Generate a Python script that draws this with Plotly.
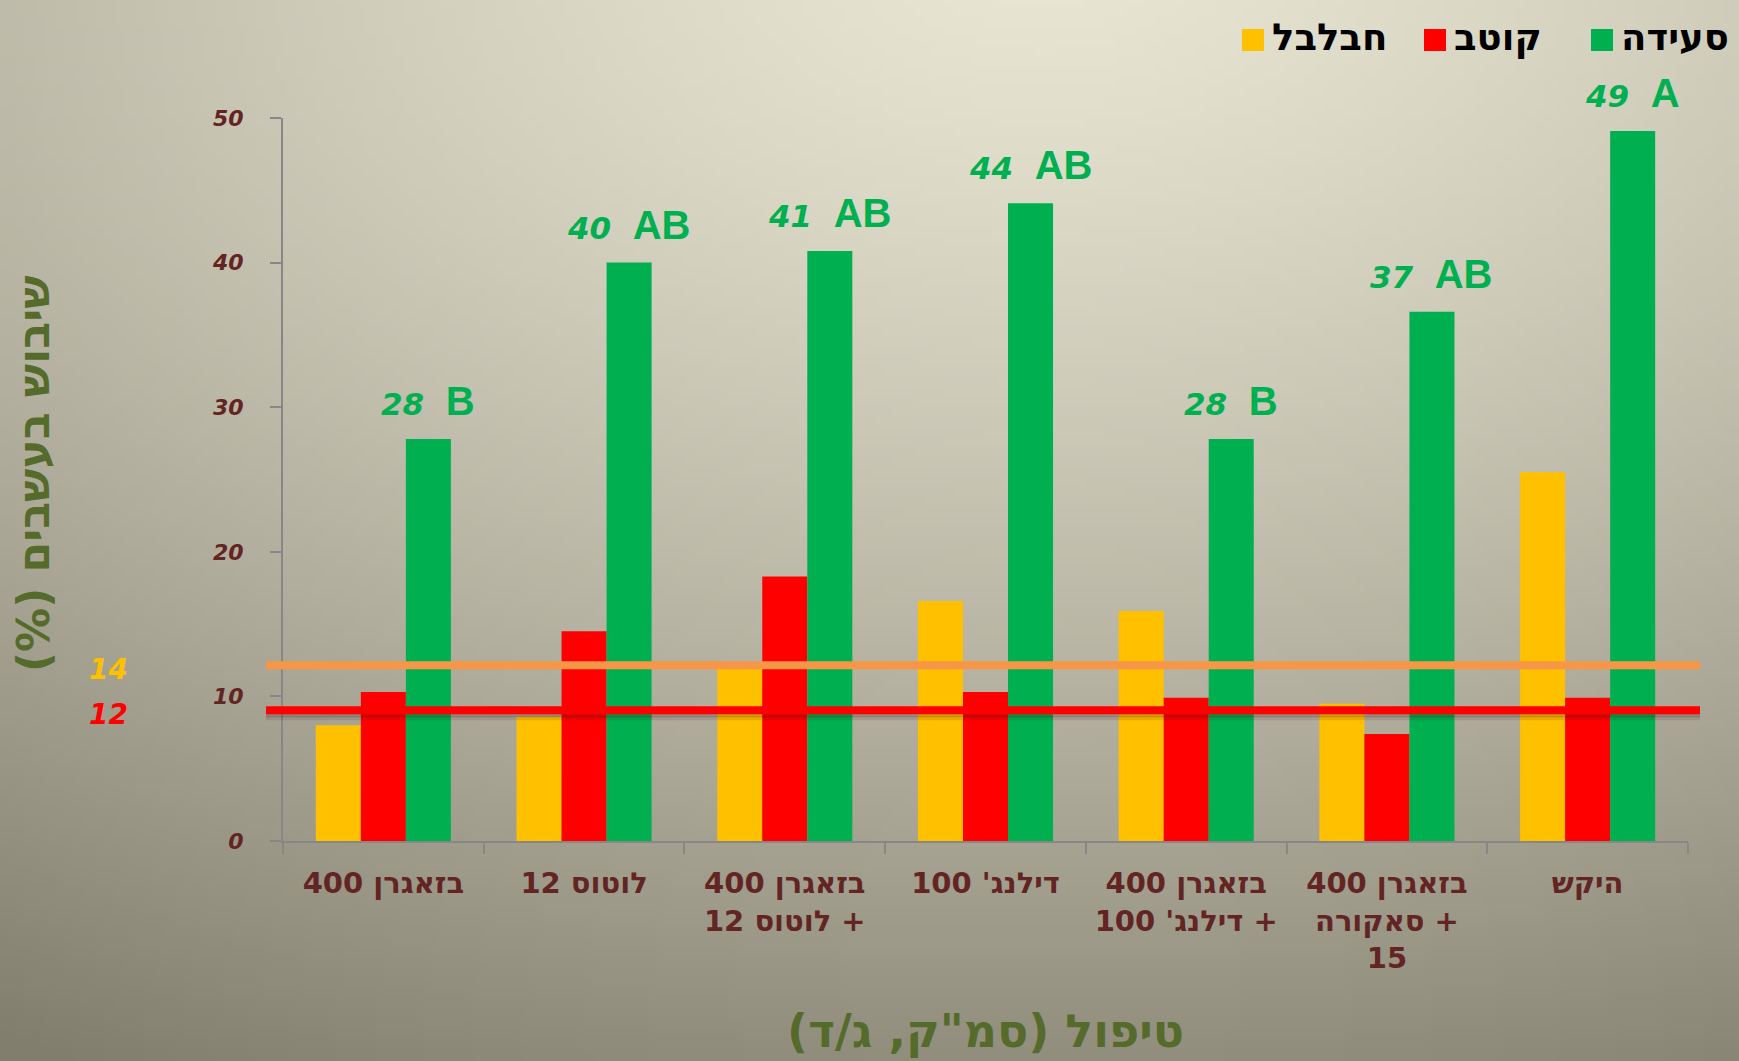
import base64
import struct
import zlib

import numpy as np
import plotly.graph_objects as go

# data
treatments = [
    "בזאגרן 400",
    "לוטוס 12",
    "בזאגרן 400<br>+ לוטוס 12",
    "דילנג' 100",
    "בזאגרן 400<br>+ דילנג' 100",
    "בזאגרן 400<br>+ סאקורה<br>15",
    "היקש",
]
series_names = ["חבלבל", "קוטב", "סעידה"]
bindweed = [8.0, 8.6, 11.9, 16.6, 15.9, 9.5, 25.5]
tribulus = [10.3, 14.5, 18.3, 10.3, 9.9, 7.4, 9.9]
saida = [27.8, 40.0, 40.8, 44.1, 27.8, 36.6, 49.1]
saida_letters = ["B", "AB", "AB", "AB", "B", "AB", "A"]
threshold_values = [12.15, 9.05]
threshold_labels = ["14", "12"]
y_ticks = [0, 10, 20, 30, 40, 50]

YELLOW = "#FFC000"
RED = "#FF0000"
GREEN = "#00B050"
ORANGE = "#F79646"
MAROON = "#632523"
OLIVE = "#546B2B"
GRAY = "#878787"
series_colors = [YELLOW, RED, GREEN]
threshold_colors = [ORANGE, RED]
threshold_label_colors = [YELLOW, RED]

W, H = 1739, 1061
L, R, T, B = 283, 51, 118, 220
pw, ph = W - L - R, H - T - B
BARGAP = 0.327


def px_x(px):
    return (px - L) / pw


def px_y(py):
    return (H - B - py) / ph


def rtl(s):
    return "<br>".join("\u202b" + line + "\u202c" for line in s.split("<br>"))


def gradient_png():
    w, h = 174, 106
    xx, yy = np.meshgrid(np.linspace(0, 1, w), np.linspace(0, 1, h))
    d = np.sqrt((xx - 0.6) ** 2 + (yy + 0.05) ** 2)
    t = np.clip(d / 1.2, 0, 1) ** 1.3
    light = np.array([234, 230, 212])
    dark = np.array([130, 126, 110])
    img = (light[None, None, :] * (1 - t[..., None]) + dark[None, None, :] * t[..., None]).astype(np.uint8)
    raw = b"".join(b"\x00" + row.tobytes() for row in img)

    def chunk(tag, data):
        c = struct.pack(">I", len(data)) + tag + data
        return c + struct.pack(">I", zlib.crc32(tag + data) & 0xFFFFFFFF)

    png = b"\x89PNG\r\n\x1a\n"
    png += chunk(b"IHDR", struct.pack(">IIBBBBB", w, h, 8, 2, 0, 0, 0))
    png += chunk(b"IDAT", zlib.compress(raw, 9))
    png += chunk(b"IEND", b"")
    return "data:image/png;base64," + base64.b64encode(png).decode()


x = list(range(len(treatments)))
fig = go.Figure()
for name, vals, color in zip(series_names, [bindweed, tribulus, saida], series_colors):
    fig.add_trace(go.Bar(x=x, y=vals, name=name, marker=dict(color=color, line=dict(width=0)),
                         showlegend=False))

bar_w = (1 - BARGAP) / 3
annotations = []
for i, (v, letter) in enumerate(zip(saida, saida_letters)):
    annotations.append(dict(
        x=i + bar_w, y=v, xref="x", yref="y", yanchor="bottom", yshift=14,
        text=f"<i>{round(v)}</i>\u00a0\u00a0<span style='font-family:Liberation Sans;font-size:40px'>{letter}</span>",
        showarrow=False,
        font=dict(family="DejaVu Sans", size=31, color=GREEN, weight="bold"),
    ))

shapes = []
for val, color in zip(threshold_values, threshold_colors):
    if color == RED:
        for off, alpha in [(-5, 0.22), (-8, 0.12)]:
            shapes.append(dict(type="line", xref="paper", yref="y", ysizemode="pixel", yanchor=val,
                               x0=px_x(266), x1=px_x(1700), y0=off, y1=off,
                               line=dict(color=f"rgba(60,15,15,{alpha})", width=4)))
    shapes.append(dict(type="line", xref="paper", yref="y", x0=px_x(266), x1=px_x(1700),
                       y0=val, y1=val, line=dict(color=color, width=8)))

for val, lab, color in zip(threshold_values, threshold_labels, threshold_label_colors):
    annotations.append(dict(
        x=px_x(108), y=val, xref="paper", yref="y", xanchor="center", yshift=-4, text=lab,
        showarrow=False,
        font=dict(family="DejaVu Sans", size=28, color=color, weight="bold", style="italic"),
    ))

# legend drawn by hand (squares + labels)
legend_left = [1242, 1424, 1591]
for name, color, left in zip(series_names, series_colors, legend_left):
    shapes.append(dict(type="rect", xref="paper", yref="paper", x0=px_x(left), x1=px_x(left + 22),
                       y0=px_y(51), y1=px_y(29), fillcolor=color, line=dict(width=0)))
    annotations.append(dict(
        x=px_x(left + 28), y=px_y(38), xref="paper", yref="paper", xanchor="left", yanchor="middle",
        text=rtl(name), showarrow=False,
        font=dict(family="DejaVu Sans", size=37, color="black", weight="bold"),
    ))

annotations.append(dict(
    x=px_x(33), y=px_y(474), xref="paper", yref="paper", xanchor="center", yanchor="middle",
    textangle=-90, text=rtl("שיבוש בעשבים (%)"), showarrow=False,
    font=dict(family="DejaVu Sans", size=44, color=OLIVE, weight="bold"),
))
annotations.append(dict(
    x=px_x(985), y=px_y(1031), xref="paper", yref="paper", xanchor="center", yanchor="middle",
    text=rtl('טיפול (סמ"ק, ג/ד)'), showarrow=False,
    font=dict(family="DejaVu Sans", size=46, color=OLIVE, weight="bold"),
))

fig.update_layout(
    width=W, height=H,
    margin=dict(l=L, r=R, t=T, b=B),
    barmode="group", bargap=BARGAP, bargroupgap=0,
    paper_bgcolor="#BDB9A8", plot_bgcolor="rgba(0,0,0,0)",
    annotations=annotations, shapes=shapes,
    images=[dict(source=gradient_png(), xref="paper", yref="paper", x=px_x(0), y=px_y(0),
                 sizex=W / pw, sizey=H / ph, xanchor="left", yanchor="top",
                 sizing="stretch", layer="below")],
    xaxis=dict(
        range=[-0.5, len(treatments) - 0.5], tickvals=x, ticktext=[rtl(t) for t in treatments],
        ticks="", showline=True, linecolor=GRAY, linewidth=2, showgrid=False, zeroline=False,
        tickfont=dict(family="DejaVu Sans", size=29, color=MAROON, weight="bold"),
        ticklabelstandoff=15,
        minor=dict(tick0=-0.5, dtick=1, ticks="outside", ticklen=11, tickcolor=GRAY, tickwidth=2),
    ),
    yaxis=dict(
        range=[0, 50], tickvals=y_ticks, ticks="outside", ticklen=11, tickcolor=GRAY, tickwidth=2,
        showline=True, linecolor=GRAY, linewidth=2, showgrid=False, zeroline=False,
        tickfont=dict(family="DejaVu Sans", size=22, color=MAROON, weight="bold", style="italic"),
        ticklabelstandoff=22,
    ),
)

fig.write_html("out.html", config={"displayModeBar": False},
               post_script="document.body.style.margin='0px';")
